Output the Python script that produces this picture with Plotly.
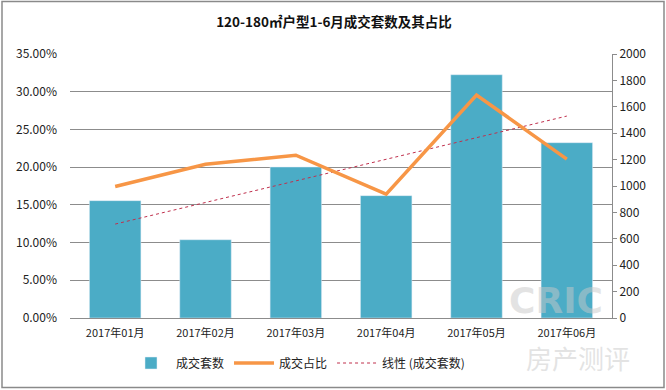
import numpy as np
import plotly.graph_objects as go

months = ["2017年01月", "2017年02月", "2017年03月", "2017年04月", "2017年05月", "2017年06月"]
deals = [889, 593, 1144, 927, 1843, 1328]
share = [0.1743, 0.2039, 0.2158, 0.1642, 0.2957, 0.2106]

# linear trendline of deals (like Excel's linear trendline)
xi = np.arange(1, len(deals) + 1)
k, b = np.polyfit(xi, deals, 1)
trend = list(k * xi + b)

FONT = "Noto Sans CJK SC"
BLUE = "#4BACC6"
ORANGE = "#F79646"
RED = "#C0304D"
GRID = "#8C8C8C"

fig = go.Figure()
fig.add_trace(go.Bar(x=months, y=deals, name="成交套数", marker_color=BLUE,
                     yaxis="y", width=0.57))
fig.add_trace(go.Scatter(x=months, y=share, name="成交占比", mode="lines",
                         line=dict(color=ORANGE, width=3.5), yaxis="y2"))
fig.add_trace(go.Scatter(x=months, y=trend, name="线性 (成交套数)", mode="lines",
                         line=dict(color=RED, width=1, dash="dot"), yaxis="y"))

L, R, T, B = 70, 54, 54, 72
W, H = 666, 390
pw, ph = W - L - R, H - T - B

def px(x):
    return (x - L) / pw

def py(y):
    return (H - B - y) / ph

fig.update_layout(
    width=W, height=H,
    margin=dict(l=L, r=R, t=T, b=B, pad=0, autoexpand=False),
    paper_bgcolor="white", plot_bgcolor="white",
    font=dict(family=FONT, size=11, color="#222"),
    title=dict(text="<b>120-180㎡户型1-6月成交套数及其占比</b>",
               x=334 / W, xanchor="center", y=1 - 22 / H, yanchor="middle",
               font=dict(family=FONT, size=13.5, color="#111")),
    bargap=0.43,
    xaxis=dict(showline=True, linecolor=GRID, linewidth=1, ticks="",
               tickfont=dict(size=11, color="#222"), showgrid=False, automargin=False,
               ticklabelstandoff=5),
    yaxis=dict(side="right", range=[0, 2000], dtick=200, showgrid=False,
               showline=True, linecolor=GRID, linewidth=1,
               ticks="outside", ticklen=4, tickcolor=GRID, automargin=False,
               tickfont=dict(size=12, color="#222"), zeroline=False),
    yaxis2=dict(side="left", overlaying="y", range=[0, 0.35], dtick=0.05,
                tickformat=".2%", showgrid=True, gridcolor=GRID, gridwidth=1,
                showline=False, ticks="", zeroline=False, automargin=False,
                tickfont=dict(size=12, color="#222"), ticklabelstandoff=12),
    legend=dict(orientation="h", x=px(126), xanchor="left", y=py(363), yanchor="middle",
                font=dict(size=12, color="#222"), itemwidth=40,
                traceorder="normal", bgcolor="rgba(0,0,0,0)"),
    showlegend=True,
)

# outer border
fig.add_shape(type="rect", xref="paper", yref="paper",
              x0=px(2), x1=px(664), y0=py(387.5), y1=py(1.5),
              line=dict(color="#8a8a8a", width=1.5), fillcolor="rgba(0,0,0,0)", layer="below")

# watermark
fig.add_annotation(text="<b>CRIC</b>", xref="paper", yref="paper",
                   x=px(556), y=py(300), xanchor="center", yanchor="middle", showarrow=False,
                   font=dict(family="DejaVu Sans", size=36, color="rgba(200,200,200,0.5)"))
fig.add_annotation(text="房产测评", xref="paper", yref="paper",
                   x=px(578), y=py(357), xanchor="center", yanchor="middle", showarrow=False,
                   font=dict(family=FONT, size=26, color="rgba(200,200,200,0.5)"))

fig.write_html("out.html", config={"displayModeBar": False},
               post_script="document.body.style.margin='0';document.body.style.overflow='hidden';")
